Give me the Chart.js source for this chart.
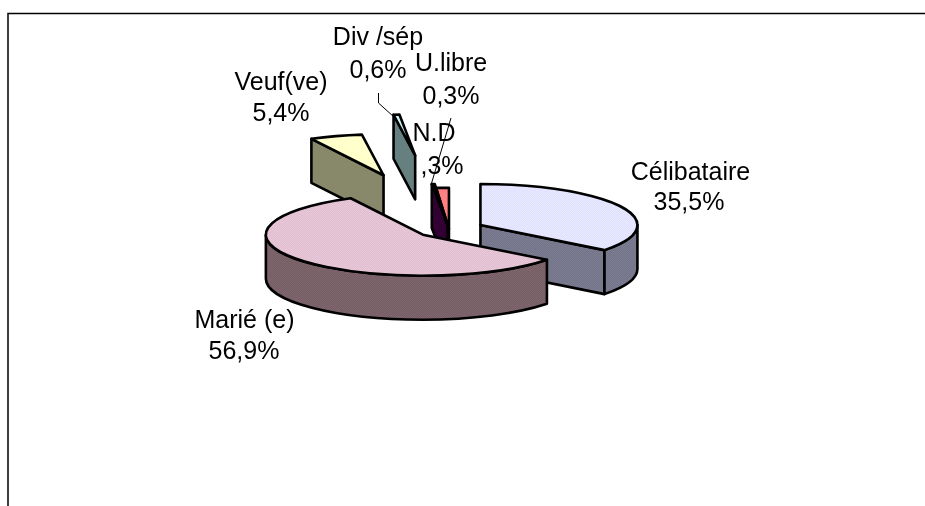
<!DOCTYPE html>
<html lang="fr">
<head>
<meta charset="utf-8">
<title>Statut matrimonial</title>
<script src="https://cdn.jsdelivr.net/npm/chart.js@4"></script>
<style>html,body{margin:0;padding:0;background:#fff}canvas{display:block}</style>
</head>
<body>
<canvas id="c" width="925" height="506"></canvas>
<script>
const categories = ["Célibataire", "Marié (e)", "Veuf(ve)", "Div /sép", "U.libre", "N.D"];
const values = [35.5, 56.9, 5.4, 0.6, 0.3, 1.3];
const valueLabels = ["35,5%", "56,9%", "5,4%", "0,6%", "0,3%", ",3%"];

const topColors = [["#e0e0ff", "#e8e8ff"], ["#e0bfd0", "#e8c8d8"], ["#ffffcc", "#ffffcc"], ["#ccf4f4", "#ccf4f4"], ["#660066", "#660066"], ["#ff8080", "#ff8080"]];
const wallColors = [["#74748a", "#7c7c90"], ["#765e66", "#7e666c"], ["#88886a", "#88886a"], ["#668080", "#668080"], ["#330033", "#330033"], ["#330033", "#330033"]];
const explode = [35, 34, 216, 284, 16, 1];
const labelCenters = [[690.5, 173, 689, 203], [244.5, 321, 244, 352], [281, 83, 281, 114], [378, 38, 378, 71], [451, 64, 451, 97], [434, 134, 442, 167]];
const paintOrder = [2, 3, 5, 4, 0, 1];
const SQUASH = 41 / 157, DEPTH = 44;

function pattern(ctx, pair) {
  const p = document.createElement("canvas");
  p.width = p.height = 2;
  const g = p.getContext("2d");
  g.fillStyle = pair[0]; g.fillRect(0, 0, 2, 2);
  g.fillStyle = pair[1]; g.fillRect(0, 0, 1, 1); g.fillRect(1, 1, 1, 1);
  return ctx.createPattern(p, "repeat");
}

const pie3d = {
  id: "pie3d",
  beforeDatasetsDraw(chart) {
    const ctx = chart.ctx, arcs = chart.getDatasetMeta(0).data;
    ctx.save();
    ctx.fillStyle = "#fff";
    ctx.fillRect(0, 0, chart.width, chart.height);
    // frame
    ctx.strokeStyle = "#000"; ctx.lineWidth = 1.5;
    ctx.beginPath(); ctx.moveTo(8, 506); ctx.lineTo(8, 13.5); ctx.lineTo(925, 13.5); ctx.stroke();

    ctx.lineJoin = "round";
    for (const i of paintOrder) {
      const el = arcs[i], o = el.options.offset || 0;
      const a = el.startAngle, b = el.endAngle, r = el.outerRadius, mid = (a + b) / 2;
      const cx = el.x + o * Math.cos(mid), cy = el.y + SQUASH * o * Math.sin(mid);
      const pt = t => [cx + r * Math.cos(t), cy + SQUASH * r * Math.sin(t)];
      const wallFill = pattern(ctx, wallColors[i]);
      const paint = (fill) => { ctx.fillStyle = fill; ctx.fill(); ctx.strokeStyle = "#000"; ctx.lineWidth = el.options.borderWidth; ctx.stroke(); };
      const radialWall = t => {
        const p = pt(t);
        ctx.beginPath();
        ctx.moveTo(cx, cy); ctx.lineTo(p[0], p[1]); ctx.lineTo(p[0], p[1] + DEPTH); ctx.lineTo(cx, cy + DEPTH); ctx.closePath();
        paint(wallFill);
      };
      // radial walls that face the viewer
      if (Math.cos(b) > 1e-6) radialWall(b);
      if (-Math.cos(a) > 1e-6) radialWall(a);
      // visible part of the rim: the front half of the ellipse
      const tau = Math.PI * 2;
      for (let k = -1; k <= 1; k++) {
        const s = Math.max(a, k * tau), e = Math.min(b, k * tau + Math.PI);
        if (e - s > 1e-6) {
          ctx.beginPath();
          ctx.ellipse(cx, cy, r, SQUASH * r, 0, s, e);
          ctx.ellipse(cx, cy + DEPTH, r, SQUASH * r, 0, e, s, true);
          ctx.closePath();
          paint(wallFill);
        }
      }
      // top face
      ctx.beginPath();
      ctx.moveTo(cx, cy);
      ctx.ellipse(cx, cy, r, SQUASH * r, 0, a, b);
      ctx.closePath();
      paint(pattern(ctx, topColors[i]));
    }

    // leader lines
    ctx.strokeStyle = "#000"; ctx.lineWidth = 1;
    ctx.beginPath(); ctx.moveTo(378.5, 93); ctx.lineTo(378.5, 103); ctx.lineTo(394, 117); ctx.stroke();
    ctx.beginPath(); ctx.moveTo(451, 118); ctx.lineTo(431, 185); ctx.stroke();

    // labels
    ctx.fillStyle = "#000";
    ctx.font = '25px "Liberation Sans", Arial, sans-serif';
    ctx.textAlign = "center"; ctx.textBaseline = "middle";
    categories.forEach((name, i) => {
      const p = labelCenters[i];
      ctx.fillText(name, p[0], p[1]);
      ctx.fillText(valueLabels[i], p[2], p[3]);
    });
    ctx.restore();
    return false;
  }
};

new Chart(document.getElementById("c"), {
  type: "pie",
  data: {
    labels: categories,
    datasets: [{ data: values, offset: explode, borderColor: "#000", borderWidth: 2.6, backgroundColor: topColors.map(c => c[0]) }]
  },
  options: {
    responsive: false,
    animation: false,
    radius: 157,
    layout: { padding: { left: 200, right: 227, top: 29, bottom: 77 } },
    plugins: { legend: { display: false }, tooltip: { enabled: false }, title: { display: false } }
  },
  plugins: [pie3d]
});
</script>
</body>
</html>
